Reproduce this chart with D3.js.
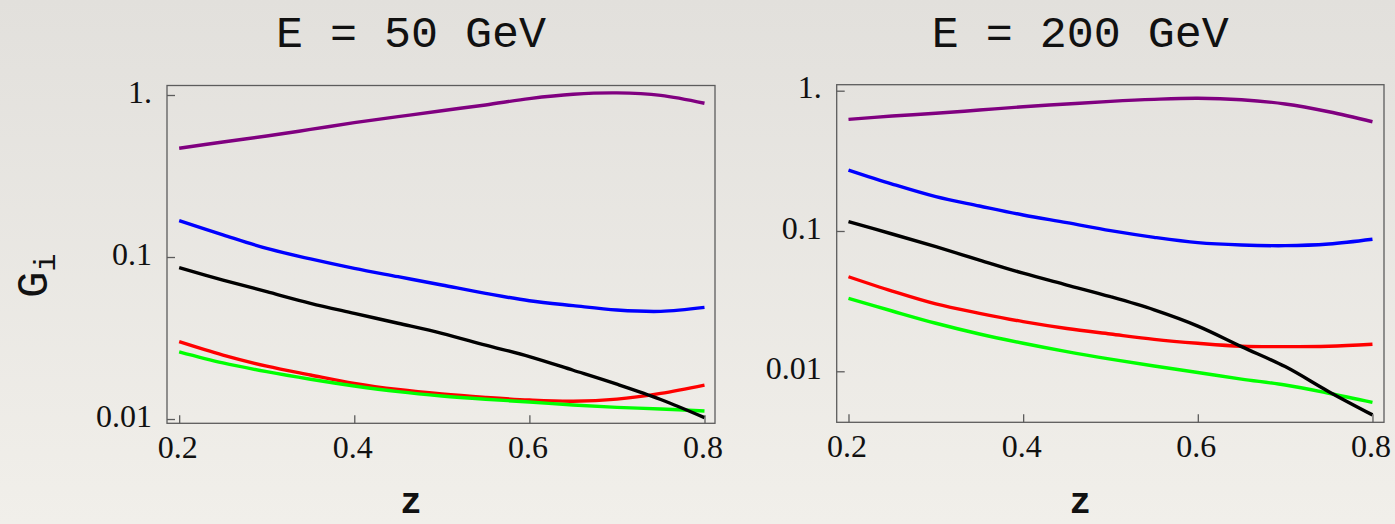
<!DOCTYPE html>
<html>
<head>
<meta charset="utf-8">
<script src="https://cdn.jsdelivr.net/npm/d3@7"></script>
<style>
  html, body { margin: 0; padding: 0; }
  body { width: 1395px; height: 524px; overflow: hidden; }
</style>
</head>
<body>
<svg id="chart" width="1395" height="524"></svg>
<script>
// ---------- data ----------
const zValues = [0.2, 0.25, 0.3, 0.35, 0.4, 0.45, 0.5, 0.55, 0.6, 0.65, 0.7, 0.75, 0.8];

const panelTitles = ["E = 50 GeV", "E = 200 GeV"];
const xTickValues = [0.2, 0.4, 0.6, 0.8];
const xTickLabels = ["0.2", "0.4", "0.6", "0.8"];
const yTickValues = [0.01, 0.1, 1];
const yTickLabels = ["0.01", "0.1", "1."];
const xLabel = "z";
const yLabelMain = "G";
const yLabelSub = "i";

// E = 50 GeV
const e50Purple = [0.469, 0.513, 0.558, 0.613, 0.675, 0.735, 0.800, 0.868, 0.950, 1.010, 1.030, 0.995, 0.889];
const e50Blue   = [0.1675, 0.137, 0.113, 0.0973, 0.0851, 0.0756, 0.0672, 0.0597, 0.0537, 0.0501, 0.0471, 0.0462, 0.0489];
const e50Black  = [0.0859, 0.0721, 0.0611, 0.0518, 0.0449, 0.0390, 0.0338, 0.0286, 0.0243, 0.0200, 0.0164, 0.0132, 0.0102];
const e50Red    = [0.0300, 0.0248, 0.0212, 0.0187, 0.0166, 0.0152, 0.01426, 0.0136, 0.0131, 0.01288, 0.01327, 0.0144, 0.0162];
const e50Green  = [0.0260, 0.0222, 0.0196, 0.0176, 0.0160, 0.01475, 0.01387, 0.01324, 0.01274, 0.0122, 0.0118, 0.01153, 0.0112];

// E = 200 GeV
const e200Purple = [0.625, 0.660, 0.690, 0.728, 0.769, 0.804, 0.840, 0.868, 0.883, 0.862, 0.804, 0.708, 0.601];
const e200Blue   = [0.272, 0.216, 0.1756, 0.1507, 0.130, 0.1146, 0.1005, 0.0901, 0.0826, 0.0795, 0.0786, 0.0808, 0.0873];
const e200Black  = [0.1165, 0.0952, 0.0773, 0.0621, 0.0500, 0.0412, 0.0340, 0.0274, 0.0210, 0.0150, 0.0108, 0.00716, 0.00489];
const e200Red    = [0.0472, 0.0373, 0.0302, 0.0259, 0.0226, 0.0202, 0.01845, 0.0169, 0.01585, 0.0151, 0.0150, 0.0151, 0.0156];
const e200Green  = [0.0331, 0.0269, 0.0220, 0.01845, 0.01585, 0.0138, 0.0122, 0.0109, 0.0098, 0.0088, 0.00798, 0.00697, 0.0060];

const seriesColors = ["#800080", "#0000ff", "#000000", "#ff0000", "#00ff00"];
const panelSeries = [
  [e50Purple, e50Blue, e50Black, e50Red, e50Green],
  [e200Purple, e200Blue, e200Black, e200Red, e200Green]
];

// ---------- layout ----------
const panels = [
  { left: 167, right: 715, top: 85.5, bottom: 423.3,
    xDomain: [0.1861, 0.8120], yDomain: [0.00941, 1.1445], showYLabel: true },
  { left: 836.7, right: 1384, top: 84.7, bottom: 422.3,
    xDomain: [0.1865, 0.8132], yDomain: [0.004329, 1.1035], showYLabel: false }
];

const svg = d3.select("#chart");

// background gradient
const defs = svg.append("defs");
const grad = defs.append("linearGradient").attr("id", "bg").attr("x1", 0).attr("y1", 0).attr("x2", 0).attr("y2", 1);
grad.append("stop").attr("offset", "0%").attr("stop-color", "#e2e0dc");
grad.append("stop").attr("offset", "100%").attr("stop-color", "#f1efea");
svg.append("rect").attr("width", 1395).attr("height", 524).attr("fill", "url(#bg)");

const frameColor = "#5c5c5c";
const tickFont = "'Liberation Serif', 'Times New Roman', serif";
const monoFont = "'Liberation Mono', 'Courier New', monospace";

panels.forEach((p, i) => {
  const x = d3.scaleLinear().domain(p.xDomain).range([p.left, p.right]);
  const y = d3.scaleLog().domain(p.yDomain).range([p.bottom, p.top]);
  const g = svg.append("g");

  // curves
  const line = d3.line()
    .x(d => x(d[0]))
    .y(d => y(d[1]))
    .curve(d3.curveCatmullRom.alpha(0.5));

  const order = [0, 1, 3, 4, 2];
  order.forEach(k => {
    const pts = zValues.map((zv, j) => [zv, panelSeries[i][k][j]]);
    g.append("path")
      .datum(pts)
      .attr("d", line)
      .attr("fill", "none")
      .attr("stroke", seriesColors[k])
      .attr("stroke-width", 3.4);
  });

  // frame
  g.append("rect")
    .attr("x", p.left).attr("y", p.top)
    .attr("width", p.right - p.left).attr("height", p.bottom - p.top)
    .attr("fill", "none").attr("stroke", frameColor).attr("stroke-width", 1.3);

  // y axis
  const yAxis = d3.axisLeft(y)
    .tickValues(yTickValues)
    .tickFormat((d, j) => yTickLabels[j])
    .tickSize(-8)
    .tickPadding(15);
  const ya = g.append("g").attr("transform", `translate(${p.left},0)`).call(yAxis);
  ya.select(".domain").remove();
  ya.selectAll(".tick line").attr("stroke", frameColor).attr("stroke-width", 1.3);
  ya.selectAll(".tick text")
    .attr("dy", "0.22em")
    .attr("fill", "#111")
    .style("font-family", tickFont)
    .style("font-size", "32px");

  // x axis
  const xAxis = d3.axisBottom(x)
    .tickValues(xTickValues)
    .tickFormat((d, j) => xTickLabels[j])
    .tickSize(-8)
    .tickPadding(12);
  const xa = g.append("g").attr("transform", `translate(0,${p.bottom})`).call(xAxis);
  xa.select(".domain").remove();
  xa.selectAll(".tick line").attr("stroke", frameColor).attr("stroke-width", 1.3);
  xa.selectAll(".tick text")
    .attr("dx", "-2")
    .attr("fill", "#111")
    .style("font-family", tickFont)
    .style("font-size", "32px");

  const center = (p.left - 60 + p.right) / 2;

  // title
  g.append("text")
    .attr("x", center).attr("y", 47)
    .attr("text-anchor", "middle")
    .attr("fill", "#111")
    .style("font-family", monoFont)
    .style("font-size", "45px")
    .style("white-space", "pre")
    .text(panelTitles[i]);

  // x label
  g.append("text")
    .attr("x", center).attr("y", 513)
    .attr("text-anchor", "middle")
    .attr("fill", "#111")
    .style("font-family", monoFont)
    .style("font-size", "36px")
    .style("font-weight", "bold")
    .text(xLabel);

  if (p.showYLabel) {
    const t = g.append("text")
      .attr("transform", "translate(46.7,298) rotate(-90)")
      .attr("text-anchor", "start")
      .attr("fill", "#111")
      .style("font-family", monoFont);
    t.append("tspan").style("font-size", "44px").text(yLabelMain);
    t.append("tspan").attr("dy", 8).style("font-size", "30px").text(yLabelSub);
  }
});
</script>
</body>
</html>
